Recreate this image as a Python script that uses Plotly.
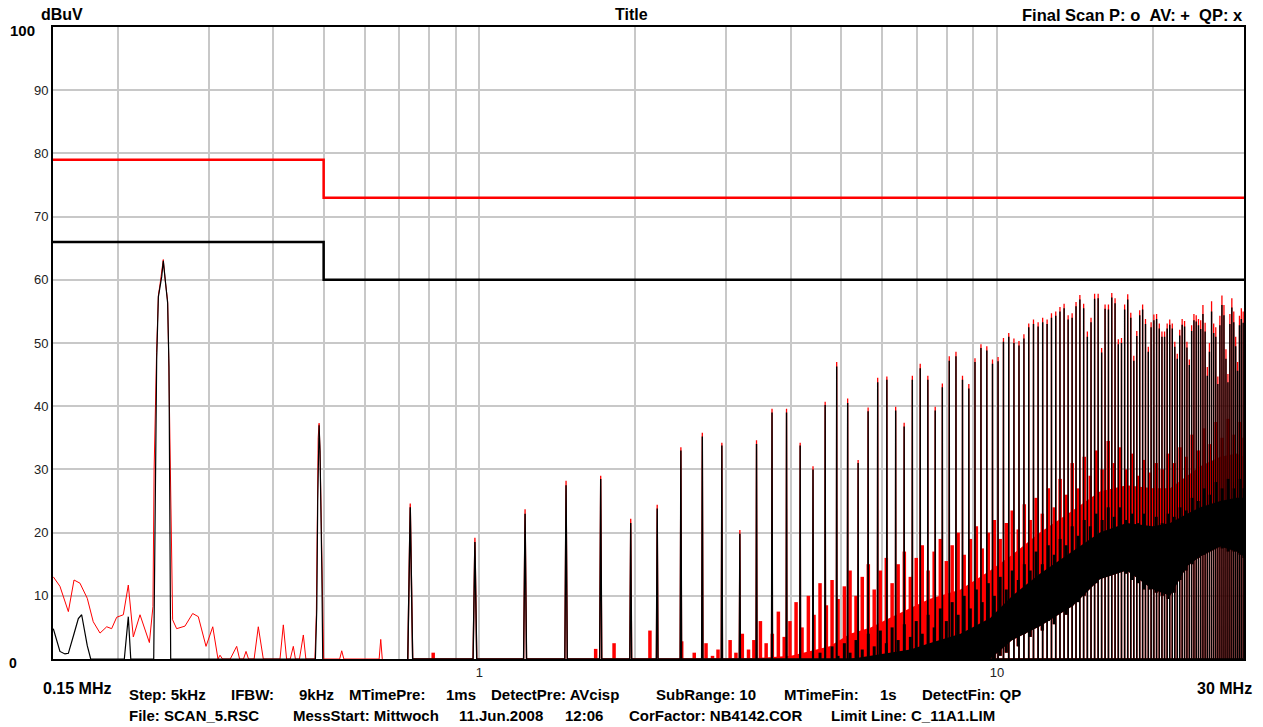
import plotly.graph_objects as go

# ---------------- data ----------------
# limit lines (MHz / dBuV)
limit_freq_mhz = [0.15, 0.5, 0.5, 30.0]
qp_limit_dbuv = [79, 79, 73, 73]
av_limit_dbuv = [66, 66, 60, 60]

# harmonic comb (MHz) and peak levels (dBuV)
harmonic_mhz = [
    0.245, 0.49, 0.735, 0.98, 1.225, 1.47, 1.715, 1.96, 2.205, 2.45,
    2.695, 2.94, 3.185, 3.43, 3.675, 3.92, 4.165, 4.41, 4.655, 4.9,
    5.145, 5.39, 5.635, 5.88, 6.125, 6.37, 6.615, 6.86, 7.105, 7.35,
    7.595, 7.84, 8.085, 8.33, 8.575, 8.82, 9.065, 9.31, 9.555, 9.8,
    10.045, 10.29, 10.535, 10.78, 11.025, 11.27, 11.515, 11.76, 12.005, 12.25,
    12.495, 12.74, 12.985, 13.23, 13.475, 13.72, 13.965, 14.21, 14.455, 14.7,
    14.945, 15.19, 15.435, 15.68, 15.925, 16.17, 16.415, 16.66, 16.905, 17.15,
    17.395, 17.64, 17.885, 18.13, 18.375, 18.62, 18.865, 19.11, 19.355, 19.6,
    19.845, 20.09, 20.335, 20.58, 20.825, 21.07, 21.315, 21.56, 21.805, 22.05,
    22.295, 22.54, 22.785, 23.03, 23.275, 23.52, 23.765, 24.01, 24.255, 24.5,
    24.745, 24.99, 25.235, 25.48, 25.725, 25.97, 26.215, 26.46, 26.705, 26.95,
    27.195, 27.44, 27.685, 27.93, 28.175, 28.42, 28.665, 28.91, 29.155, 29.4,
    29.645, 29.89,
]
qp_peak_dbuv = [
    63.2, 37.3, 24.6, 19.2, 23.7, 28.2, 29.0, 22.2, 24.4, 33.5,
    35.8, 34.2, 20.4, 34.6, 39.6, 39.6, 34.2, 30.5, 40.7, 47.0,
    41.2, 31.5, 39.8, 44.5, 44.7, 39.9, 37.4, 44.8, 46.7, 44.8,
    39.9, 43.6, 47.9, 48.6, 44.8, 43.5, 47.6, 49.8, 49.5, 47.4,
    47.8, 50.8, 51.6, 50.7, 50.3, 51.4, 53.1, 53.7, 53.3, 54.0,
    53.7, 54.7, 55.0, 55.7, 56.2, 54.4, 54.7, 56.5, 57.6, 56.2,
    51.8, 54.0, 57.8, 57.8, 49.2, 56.1, 56.1, 57.9, 57.1, 50.6,
    50.8, 56.1, 57.7, 54.8, 48.0, 51.9, 55.2, 56.1, 53.8, 49.4,
    53.3, 54.5, 54.6, 53.1, 51.8, 51.8, 53.1, 53.7, 53.1, 50.2,
    48.3, 52.1, 53.8, 53.5, 50.2, 47.4, 52.8, 54.6, 54.4, 53.8,
    53.6, 56.0, 53.2, 46.2, 50.0, 56.6, 53.1, 52.5, 44.7, 54.3,
    57.5, 56.0, 49.0, 45.1, 54.6, 57.1, 55.0, 51.0, 47.0, 54.3,
    55.5, 55.0,
]
av_peak_dbuv = [
    63.0, 37.0, 24.0, 18.5, 23.0, 27.5, 28.5, 21.5, 23.8, 33.0,
    35.2, 33.8, 19.8, 34.0, 39.0, 39.0, 33.8, 30.0, 40.2, 46.3,
    40.5, 31.0, 39.2, 43.8, 44.2, 39.3, 36.8, 44.2, 46.0, 44.2,
    39.3, 43.0, 47.2, 47.9, 44.2, 42.8, 47.0, 49.2, 48.8, 46.7,
    47.1, 50.2, 51.0, 50.0, 49.6, 50.7, 52.5, 53.0, 52.6, 53.3,
    53.0, 54.0, 54.3, 55.0, 55.5, 53.7, 54.0, 55.8, 56.9, 55.5,
    51.0, 53.3, 57.0, 57.1, 48.5, 55.4, 55.3, 57.2, 56.3, 49.8,
    50.0, 55.3, 56.9, 54.0, 47.2, 51.1, 54.4, 55.3, 53.0, 48.6,
    52.5, 53.6, 53.8, 52.3, 51.0, 51.0, 52.3, 52.9, 52.3, 49.4,
    47.5, 51.2, 52.9, 52.6, 49.3, 46.5, 51.9, 53.6, 53.4, 52.8,
    52.2, 54.6, 51.8, 44.8, 48.6, 55.0, 51.6, 51.0, 43.5, 52.8,
    56.0, 54.4, 47.5, 43.8, 53.0, 55.6, 53.3, 49.5, 45.6, 52.8,
    53.8, 53.2,
]

# low-frequency detail of the QP (red) trace
low_qp_freq_mhz = [
    0.1502, 0.1547, 0.1606, 0.1647, 0.1691, 0.1747, 0.1794, 0.1849, 0.1905, 0.1947,
    0.1991, 0.2051, 0.2097, 0.2144, 0.2209, 0.2303, 0.2340, 0.2352, 0.2378, 0.2397,
    0.2414, 0.2433, 0.2450, 0.2469, 0.2487, 0.2498, 0.2510, 0.2525, 0.2554, 0.2600,
    0.2698, 0.2792, 0.2863, 0.2963, 0.3053, 0.3125, 0.3153, 0.3189, 0.3300, 0.3396,
    0.3440, 0.3500, 0.3540, 0.3580, 0.3670, 0.3739, 0.3823, 0.4118, 0.4179, 0.4240,
    0.4310, 0.4369, 0.4410, 0.4490, 0.4568, 0.4620, 0.4810, 0.4840, 0.4860, 0.4880,
    0.4900, 0.4920, 0.4940, 0.4960, 0.4980, 0.5000, 0.5370, 0.5419, 0.5470, 0.6400,
    0.6446, 0.6490,
]
low_qp_dbuv = [
    13.0, 11.5, 7.5, 12.5, 12.0, 9.6, 5.9, 4.1, 5.1, 4.8,
    6.6, 7.0, 11.7, 3.5, 7.0, 2.6, 8.3, 30.0, 48.5, 57.5,
    59.2, 61.0, 63.2, 60.2, 58.2, 56.6, 47.5, 30.5, 6.2, 4.8,
    5.2, 7.2, 6.7, 2.0, 5.1, 0.0, 0.6, 0.0, 0.0, 2.0,
    0.0, 0.0, 1.2, 0.0, 0.0, 5.1, 0.0, 0.0, 5.4, 0.0,
    0.0, 2.0, 0.0, 0.0, 3.8, 0.0, 0.0, 7.0, 25.0, 35.0,
    37.3, 33.0, 25.0, 14.5, 7.0, 0.0, 0.0, 1.3, 0.0, 0.0,
    3.1, 0.0,
]
# low-frequency detail of the AV (black) trace
low_av_freq_mhz = [
    0.1502, 0.1547, 0.1582, 0.1606, 0.1647, 0.1679, 0.1704, 0.1747, 0.1774, 0.2060,
    0.2097, 0.2120, 0.2348, 0.2379, 0.2397, 0.2414, 0.2433, 0.2450, 0.2469, 0.2487,
    0.2498, 0.2513, 0.2532, 0.4820, 0.4850, 0.4870, 0.4890, 0.4900, 0.4920, 0.4940,
    0.4960, 0.4980,
]
low_av_dbuv = [
    4.8, 1.2, 0.8, 0.9, 4.0, 6.4, 7.0, 2.1, 0.0, 0.0,
    6.7, 0.0, 0.0, 47.3, 57.3, 58.8, 60.5, 63.0, 60.0, 58.0,
    56.3, 46.2, 0.0, 0.0, 8.0, 25.0, 35.0, 37.0, 33.0, 25.0,
    14.0, 0.0,
]

# broadband noise: dense core envelopes (dBuV)
band_freq_mhz = [2.6, 3.2, 4.0, 4.75, 5.2, 5.7, 6.2, 6.8, 7.4, 8.5, 9.7, 10.7,
                 12.1, 14.0, 15.8, 17.8, 20.0, 21.6, 23.3, 24.7, 27.0, 29.0, 30.0]
qp_noise_core = [0, 0, 0.5, 2, 4, 5, 6.5, 8, 9.5, 11, 14, 16.5,
                 20, 23.5, 26.5, 27.5, 27, 27, 29, 30.5, 32, 32.5, 32]
av_noise_core = [0, 0, 0, 0, 0, 0.5, 1, 1.5, 2.5, 4, 6.5, 10,
                 13.5, 17, 20, 21.5, 21, 21.5, 23, 24, 25, 25.5, 25.5]
noise_floor = [0, 0, 0, 0, 0, 0, 0, 0, 0, 0, 0, 3,
               5.2, 8.4, 12.6, 14, 11, 10, 14.7, 16.2, 17.8, 17, 16.2]

# broadband noise: individual spike tips and bottoms (dBuV)
noise_freq_mhz = [
    0.814, 1.677, 1.82, 2.135, 2.459,
    2.6, 2.67, 2.74, 2.82, 2.89, 2.97, 3.05, 3.13, 3.22, 3.31,
    3.39, 3.49, 3.58, 3.68, 3.78, 3.88, 3.98, 4.09, 4.2, 4.32,
    4.43, 4.55, 4.68, 4.8, 4.93, 5.07, 5.2, 5.34, 5.49, 5.64,
    5.79, 5.95, 6.11, 6.27, 6.44, 6.62, 6.8, 6.98, 7.17, 7.36,
    7.56, 7.77, 7.98, 8.19, 8.41, 8.64, 8.88, 9.12, 9.36, 9.62,
    9.88, 10.14, 10.42, 10.7, 10.99, 11.29, 11.59, 11.9, 12.23, 12.56,
    12.9, 13.24, 13.6, 13.97, 14.35, 14.74, 15.14, 15.54, 15.96, 16.4,
    16.84, 17.3, 17.76, 18.24, 18.74, 19.24, 19.76, 20.3, 20.85, 21.41,
    21.99, 22.58, 23.19, 23.82, 24.47, 25.13, 25.81, 26.5, 27.22, 27.96,
    28.71, 29.49, 30.0,
]
qp_noise_tip = [
    1.0, 1.6, 2.5, 4.5, 2.8,
    1.0, 0.0, 2.5, 0.5, 1.5, 0.0, 3.0, 1.0, 4.0, 1.5,
    3.0, 6.0, 2.5, 4.0, 7.5, 3.5, 6.0, 9.0, 5.0, 10.0,
    7.0, 12.0, 8.5, 12.5, 9.5, 11.5, 14.0, 10.0, 13.0, 15.0,
    11.0, 14.0, 16.0, 12.0, 15.0, 17.0, 13.0, 16.0, 18.0, 14.0,
    17.0, 19.0, 15.5, 18.0, 20.0, 16.5, 19.0, 21.0, 17.5, 20.0,
    22.0, 19.0, 21.5, 23.5, 20.5, 24.5, 22.0, 25.5, 23.0, 27.0,
    24.0, 28.5, 26.0, 31.0, 27.0, 32.0, 29.0, 33.0, 30.0, 34.5,
    31.0, 33.5, 30.0, 32.5, 29.0, 31.5, 29.5, 31.0, 30.0, 32.5,
    31.0, 33.5, 32.0, 35.5, 33.0, 36.5, 34.0, 37.5, 35.0, 38.0,
    35.5, 37.5, 35.0,
]
av_noise_tip = [
    0.0, 0.0, 0.0, 0.0, 0.0,
    0.0, 0.0, 0.0, 0.0, 0.0, 0.0, 0.0, 0.0, 0.0, 0.0,
    0.0, 0.0, 0.0, 0.0, 0.0, 0.0, 0.0, 0.0, 0.0, 0.0,
    0.0, 1.0, 0.0, 2.0, 0.5, 2.5, 1.0, 3.0, 1.5, 4.0,
    2.0, 4.5, 2.5, 5.0, 3.0, 5.5, 3.5, 6.0, 4.0, 7.0,
    5.0, 8.0, 6.0, 9.0, 7.0, 10.0, 8.0, 11.0, 9.0, 12.0,
    10.0, 13.0, 11.0, 14.0, 12.5, 15.0, 14.0, 17.0, 15.0, 18.0,
    16.5, 19.0, 18.0, 21.0, 19.5, 22.0, 21.0, 23.0, 22.0, 24.0,
    22.5, 24.0, 22.0, 23.0, 21.5, 23.0, 21.0, 22.5, 21.5, 23.0,
    22.5, 24.0, 23.5, 25.5, 25.0, 27.0, 26.0, 28.0, 27.0, 28.5,
    27.0, 28.5, 27.0,
]
noise_bottom = [
    0, 0, 0, 0, 0,
    0, 0, 0, 0, 0, 0, 0, 0, 0, 0,
    0, 0, 0, 0, 0, 0, 0, 0, 0, 0,
    0, 0, 0, 0, 0, 0, 0, 0, 0, 0,
    0, 0, 0, 0, 0, 0, 0, 0, 0, 0,
    0, 0, 0, 0, 0, 0, 0, 0, 0, 0,
    0, 0.5, 1.0, 3.0, 2.0, 4.0, 3.5, 5.0, 4.5, 6.0,
    5.5, 7.5, 7.0, 8.5, 9.0, 10.0, 11.5, 12.0, 13.0, 14.0,
    14.5, 14.0, 13.5, 12.5, 12.0, 11.0, 11.0, 10.5, 10.0, 9.5,
    10.5, 12.5, 14.0, 15.0, 16.0, 16.5, 17.5, 18.0, 17.5, 17.0,
    17.0, 16.5, 16.0,
]

# axis ticks
x_grid_mhz = [0.2, 0.3, 0.4, 0.5, 0.6, 0.7, 0.8, 0.9, 1, 2, 3, 4, 5, 6, 7, 8, 9, 10, 20]
x_tick_text = ['', '', '', '', '', '', '', '', '1', '', '', '', '', '', '', '', '', '10', '']
y_grid = [10, 20, 30, 40, 50, 60, 70, 80, 90]
y_tick_text = ['10', '20', '30', '40', '50', '60', '70', '80', '90']

# ---------------- styling ----------------
RED = '#ff0000'
BLACK = '#000000'
FONT = 'Liberation Sans, Arial, sans-serif'
SPIKE_HALF_WIDTH = 0.008  # MHz, visual width of the comb lines


def spike_path(freqs, peaks):
    xs, ys = [], []
    for f, p in zip(freqs, peaks):
        xs += [f - SPIKE_HALF_WIDTH, f, f + SPIKE_HALF_WIDTH]
        ys += [0, p, 0]
    return xs, ys


def segments(freqs, bottoms, tops):
    xs, ys = [], []
    for f, b, t in zip(freqs, bottoms, tops):
        if t > b:
            xs += [f, f, None]
            ys += [b, t, None]
    return xs, ys


def band(fig, lower, upper, color):
    fig.add_trace(go.Scatter(x=band_freq_mhz, y=lower, mode='lines',
                             line=dict(width=0), hoverinfo='skip', showlegend=False))
    fig.add_trace(go.Scatter(x=band_freq_mhz, y=upper, mode='lines', fill='tonexty',
                             fillcolor=color, line=dict(width=0), hoverinfo='skip',
                             showlegend=False))


fig = go.Figure()

# QP (red) trace
band(fig, noise_floor, qp_noise_core, RED)
nx, ny = segments(noise_freq_mhz, noise_bottom, qp_noise_tip)
fig.add_trace(go.Scatter(x=nx, y=ny, mode='lines', line=dict(color=RED, width=3.5),
                         showlegend=False, hoverinfo='skip'))
qx, qy = spike_path(harmonic_mhz[2:], qp_peak_dbuv[2:])
fig.add_trace(go.Scatter(x=qx, y=qy, mode='lines', line=dict(color=RED, width=1.3),
                         showlegend=False, name='QP'))
fig.add_trace(go.Scatter(x=low_qp_freq_mhz, y=low_qp_dbuv, mode='lines',
                         line=dict(color=RED, width=1), showlegend=False))

# AV (black) trace
band(fig, noise_floor, av_noise_core, BLACK)
bx, by = segments(noise_freq_mhz, noise_bottom, av_noise_tip)
fig.add_trace(go.Scatter(x=bx, y=by, mode='lines', line=dict(color=BLACK, width=3),
                         showlegend=False, hoverinfo='skip'))
ax_, ay_ = spike_path(harmonic_mhz[2:], av_peak_dbuv[2:])
fig.add_trace(go.Scatter(x=ax_, y=ay_, mode='lines', line=dict(color=BLACK, width=1.4),
                         showlegend=False, name='AV'))
fig.add_trace(go.Scatter(x=low_av_freq_mhz, y=low_av_dbuv, mode='lines',
                         line=dict(color=BLACK, width=1.2), showlegend=False))

# limit lines
fig.add_trace(go.Scatter(x=limit_freq_mhz, y=qp_limit_dbuv, mode='lines',
                         line=dict(color=RED, width=2.5), showlegend=False))
fig.add_trace(go.Scatter(x=limit_freq_mhz, y=av_limit_dbuv, mode='lines',
                         line=dict(color=BLACK, width=2.5), showlegend=False))

L, R, T, B = 53, 19, 27, 68
W, H = 1263, 727
PW, PH = W - L - R, H - T - B


def px(x):
    return (x - L) / PW


def py(y):
    return (H - B - y) / PH


def label(text, x, y, anchor='left', size=16, bold=True):
    t = '<b>' + text + '</b>' if bold else text
    fig.add_annotation(text=t, x=px(x), y=py(y), xref='paper', yref='paper',
                       xanchor=anchor, yanchor='middle', showarrow=False,
                       borderpad=0, font=dict(family=FONT, size=size, color='#000'))


NB = '\u00a0'
label('dBuV', 40, 15)
label('Title', 631, 15, anchor='center')
label('Final Scan P: o' + NB * 2 + 'AV: +' + NB * 2 + 'QP: x', 1244, 15, anchor='right',
      size=16.5)
label('100', 36, 30, anchor='right', size=15)
label('0', 18, 663, anchor='right', size=14)
label('0.15 MHz', 42, 688)
label('30 MHz', 1253, 688, anchor='right')

line1 = [('Step: 5kHz', 128), ('IFBW:', 230), ('9kHz', 298), ('MTimePre:', 348),
         ('1ms', 445), ('DetectPre: AVcisp', 490), ('SubRange: 10', 655),
         ('MTimeFin:', 783), ('1s', 879), ('DetectFin: QP', 921)]
line2 = [('File: SCAN_5.RSC', 128), ('MessStart: Mittwoch', 292), ('11.Jun.2008', 458),
         ('12:06', 564), ('CorFactor: NB4142.COR', 628), ('Limit Line: C_11A1.LIM', 830)]
for t, x in line1:
    label(t, x, 694, size=15)
for t, x in line2:
    label(t, x, 715, size=15)

fig.update_layout(
    width=W, height=H,
    margin=dict(l=L, r=R, t=T, b=B, pad=0),
    paper_bgcolor='white', plot_bgcolor='white',
    showlegend=False,
    font=dict(family=FONT, size=13, color='#222'),
    xaxis=dict(type='log', range=[-0.8239087, 1.4771213], tickvals=x_grid_mhz,
               ticktext=x_tick_text, ticks='', showgrid=True, gridcolor='#c8c8c8',
               gridwidth=1.5, showline=True, mirror=True, linecolor='black',
               linewidth=2, zeroline=False, tickfont=dict(size=13, color='#222')),
    yaxis=dict(range=[0, 100], tickvals=y_grid, ticktext=y_tick_text, ticks='',
               showgrid=True, gridcolor='#c8c8c8', gridwidth=1.5, showline=True,
               mirror=True, linecolor='black', linewidth=2, zeroline=False,
               tickfont=dict(size=13, color='#222')),
)

fig.write_html('out.html')
